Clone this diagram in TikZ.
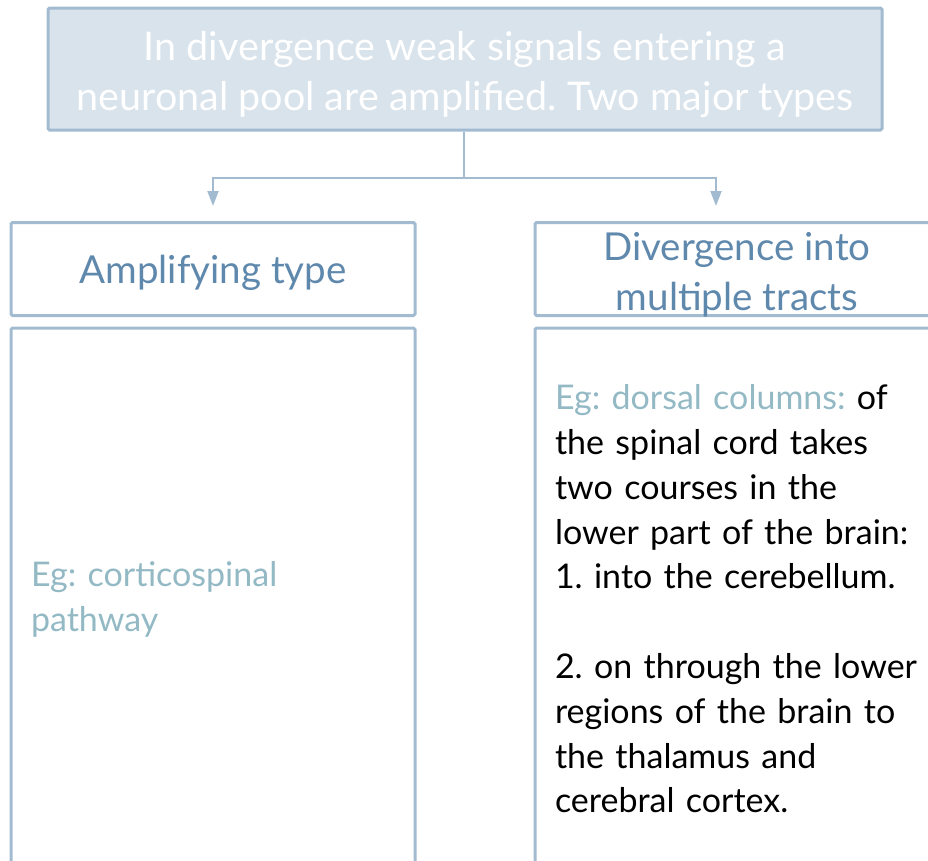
\documentclass[tikz,border=0pt]{standalone}
\usepackage{fontspec}
\setmainfont{Lato}
\usetikzlibrary{arrows.meta}
\definecolor{edge}{HTML}{A3BBD1}
\definecolor{headtext}{HTML}{5F88AD}
\definecolor{egtext}{HTML}{93B9C5}
\definecolor{topfill}{HTML}{D9E3EC}
\frenchspacing
% lower a block of text without changing the size TikZ sees
\newcommand{\dropby}[2]{\raisebox{-#1}[\height][\depth]{#2}}
\begin{document}
\begin{tikzpicture}[x=1pt,y=-1pt,
    box/.style={draw=edge,line width=3pt,rounded corners=1.5pt,inner sep=0pt},
    headbox/.style={box,minimum width=404pt,minimum height=93pt,align=center,text=headtext,font=\fontsize{38.5}{50}\selectfont},
    bodybox/.style={box,minimum width=404pt,minimum height=542pt,text width=364pt,inner xsep=20pt,align=left,font=\fontsize{34}{44.8}\selectfont},
    link/.style={draw=edge,line width=2pt}]
    \useasboundingbox (0,0) rectangle (928,860);
    % title box and the two branches
    \node[box,fill=topfill,text=white,minimum width=834pt,minimum height=122pt,
          font=\fontsize{39.5}{50}\selectfont] (title) at (465,69)
          {\dropby{5.5pt}{\parbox{834pt}{\centering In divergence weak signals entering a\\neuronal pool are amplified. Two major types}}};
    \node[headbox] (amp) at (213,269) {\dropby{4pt}{Amplifying type}};
    \node[headbox] (div) at (737,269) {\dropby{5.5pt}{\parbox{404pt}{\centering Divergence into\\multiple tracts}}};
    \node[bodybox] (ampbody) at (213,599) {\textcolor{egtext}{Eg: corticospinal\\pathway}};
    \node[bodybox,text width=384pt] (divbody) at (747,599) {\textcolor{egtext}{Eg: dorsal columns:} of\\the spinal cord takes\\two courses in the\\lower part of the brain:\\1. into the cerebellum.\\[44.8pt]2. on through the lower\\regions of the brain to\\the thalamus and\\cerebral cortex.};
    \draw[link] (title.south -| 464,0) -- ++(0,46) coordinate (fork);
    \draw[link,-{Triangle[length=15pt,width=11pt]},shorten >=15pt] (fork) -| (amp.north);
    \draw[link,-{Triangle[length=15pt,width=11pt]},shorten >=15pt] (fork) -| ([xshift=-21pt]div.north);
\end{tikzpicture}
\end{document}
